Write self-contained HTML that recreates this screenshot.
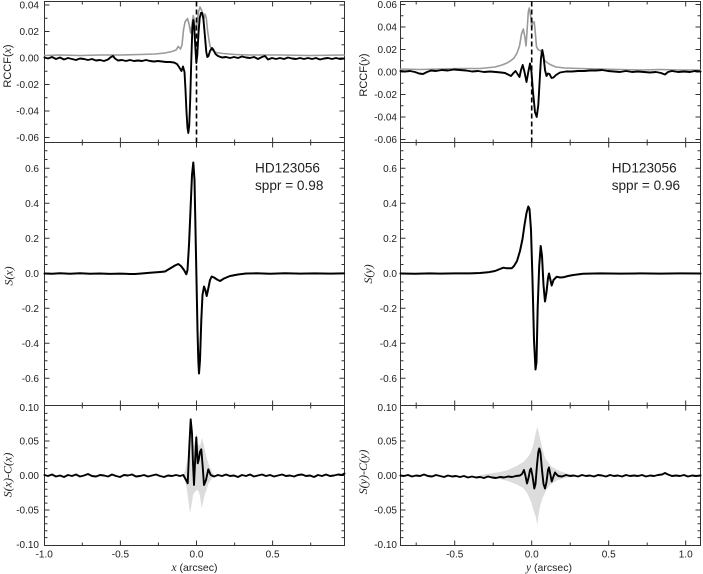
<!DOCTYPE html>
<html><head><meta charset="utf-8"><style>
html,body{margin:0;padding:0;background:#fff;}
svg{display:block;}
text{font-family:"Liberation Sans",Arial,sans-serif;fill:#222;}
.tl{font-size:10px;}
.it{font-family:"Liberation Serif",serif;font-style:italic;}
</style></head><body>
<svg width="703" height="574" viewBox="0 0 703 574" xmlns="http://www.w3.org/2000/svg">
<defs>
<path id="ytTL" d="M0 5h5M0 31.5h5M0 58h5M0 84.5h5M0 111h5M0 137.5h5M0 18.25h3M0 44.75h3M0 71.25h3M0 97.75h3M0 124.25h3"/>
<path id="ytTR" d="M0 4.5h5M0 27h5M0 49.5h5M0 72h5M0 94.5h5M0 117h5M0 139.5h5M0 15.75h3M0 38.25h3M0 60.75h3M0 83.25h3M0 105.75h3M0 128.25h3"/>
<path id="ytM" d="M0 168.3h5M0 203.3h5M0 238.3h5M0 273.3h5M0 308.3h5M0 343.3h5M0 378.3h5M0 150.8h3M0 159.55h3M0 177.05h3M0 185.8h3M0 194.55h3M0 212.05h3M0 220.8h3M0 229.55h3M0 247.05h3M0 255.8h3M0 264.55h3M0 282.05h3M0 290.8h3M0 299.55h3M0 317.05h3M0 325.8h3M0 334.55h3M0 352.05h3M0 360.8h3M0 369.55h3M0 387.05h3M0 395.8h3"/>
<path id="ytB" d="M0 441h5M0 475.5h5M0 510h5M0 413.4h3M0 420.3h3M0 427.2h3M0 434.1h3M0 447.9h3M0 454.8h3M0 461.7h3M0 468.6h3M0 482.4h3M0 489.3h3M0 496.2h3M0 503.1h3M0 516.9h3M0 523.8h3M0 530.7h3M0 537.6h3"/>
</defs>
<g stroke="#333" stroke-width="1" fill="none">
<rect x="44.5" y="1.5" width="300" height="544"/>
<path d="M44.5 142.5H344.5M44.5 405.5H344.5"/>
<rect x="400.5" y="1.5" width="300" height="544"/>
<path d="M400.5 142.5H700.5M400.5 405.5H700.5"/>
<use href="#ytTL" x="44.5"/>
<use href="#ytTL" transform="translate(344.5,0) scale(-1,1)"/>
<use href="#ytM" x="44.5"/>
<use href="#ytM" transform="translate(344.5,0) scale(-1,1)"/>
<use href="#ytB" x="44.5"/>
<use href="#ytB" transform="translate(344.5,0) scale(-1,1)"/>
<use href="#ytTR" x="400.5"/>
<use href="#ytTR" transform="translate(700.5,0) scale(-1,1)"/>
<use href="#ytM" x="400.5"/>
<use href="#ytM" transform="translate(700.5,0) scale(-1,1)"/>
<use href="#ytB" x="400.5"/>
<use href="#ytB" transform="translate(700.5,0) scale(-1,1)"/>
<path d="M120.4 1.5v5M196.5 1.5v5M272.6 1.5v5M82.3 1.5v3M158.4 1.5v3M234.6 1.5v3M310.7 1.5v3
M120.4 137.5v10M196.5 137.5v10M272.6 137.5v10M82.3 139.5v6M158.4 139.5v6M234.6 139.5v6M310.7 139.5v6
M120.4 400.5v10M196.5 400.5v10M272.6 400.5v10M82.3 402.5v6M158.4 402.5v6M234.6 402.5v6M310.7 402.5v6
M120.4 545.5v-5M196.5 545.5v-5M272.6 545.5v-5M82.3 545.5v-3M158.4 545.5v-3M234.6 545.5v-3M310.7 545.5v-3"/>
<path d="M454.7 1.5v5M531.7 1.5v5M608.7 1.5v5M685.7 1.5v5M416.2 1.5v3M493.2 1.5v3M570.2 1.5v3M647.2 1.5v3
M454.7 137.5v10M531.7 137.5v10M608.7 137.5v10M685.7 137.5v10M416.2 139.5v6M493.2 139.5v6M570.2 139.5v6M647.2 139.5v6
M454.7 400.5v10M531.7 400.5v10M608.7 400.5v10M685.7 400.5v10M416.2 402.5v6M493.2 402.5v6M570.2 402.5v6M647.2 402.5v6
M454.7 545.5v-5M531.7 545.5v-5M608.7 545.5v-5M685.7 545.5v-5M416.2 545.5v-3M493.2 545.5v-3M570.2 545.5v-3M647.2 545.5v-3"/>
</g>

<polygon fill="#dcdcdc" points="183,475 185,471 187,462 188.5,450 190.5,428 192,440 193.5,446 195,440 196.5,433 198,444 200,446 202,438 204,446 206,455 208,462 210,468 212,472 214,475 214,476 212,478 210,481 208.3,484 206.5,490 205,494 203.5,500 201.7,508.5 200,496 198.5,491 196.7,490 195,492 193.3,494 191.5,505 190,513.5 188.5,502 187,490 185,480 183,476"/>
<polygon fill="#dcdcdc" points="480,475 490,473.5 500,472 508,470 516.7,466 523.3,462 528,457 531,452 533.5,444 535.5,434 537.3,426.5 539,434 540.5,440 542.5,449 545,458 548,462 550,465 553,467.5 556.7,469.5 561,471.5 566.7,473.5 575,475 575,476.5 566.7,477.5 561,479 556.7,480.5 553,483 550,485 547,489 545,493 542.5,498 540,506.5 538.5,515 537.3,525 536,518 534.5,513 533.3,510 531.5,503 530,499 527,493 523.3,488 516.7,484.5 508,481 500,479 490,477.5 480,476.5"/>

<g fill="none" stroke-linejoin="round" stroke-linecap="round">
<polyline stroke="#9a9a9a" stroke-width="1.6" points="44.5,55.5 60,55 80,55.5 100,55 120,55 140,54.5 155,54 165,53 172,51.5 176,50 178.3,46.5 180.5,49 182,45 183.5,30 185,22 187.5,18.5 189,24 190.7,33 192,24 193.3,15.5 194.5,22 195.7,30 197,24 198.5,12 200,7 201.5,10 202.5,14 203.7,20 205,14 206.3,18 207.5,30 208.5,37 210,46 212,50 216,52.5 223,53.5 235,54.5 250,55 280,55 310,55.5 344,55"/>
<polyline stroke="#000" stroke-width="1.9" points="44.5,57.5 48,58.5 52,57 56,59 60,57.5 64,59.5 68,58 72,59 76,60 80,58.5 84,59 88,60 92,59 96,60.5 100,60 104,61 108,59.5 111,57 113,56 115,58.5 118,60.5 122,60 126,61 130,60 134,61 138,60.5 142,61 146,60 150,61 154,61.5 158,61 162,61.5 166,62 170,62 174,62.5 177,64 179,67 181.5,71 183,66.5 184.5,72 185.5,90 186.5,112 187.5,128 188.3,133 189.2,126 190.2,100 191.3,60 192.3,30 193.3,20 194.2,27 195.2,45 196.3,63 197.3,55 198.5,33 199.7,18 201,13 202.3,13 203.5,20 205,37 206.3,52 207.3,57 208.5,56 210,51 212,48 213.5,50 215.5,54 218,56 222,57.5 226,57 230,58 234,57 238,58 242,56.5 246,57.5 250,58 254,57 258,59 262,57 265,56 268,59.5 272,58 276,59 280,58 284,59 288,57.5 292,58.5 296,59 300,58 304,59 308,58 312,59 316,58 320,59.5 324,58.5 328,58 332,59 336,58 340,59 344,58.5"/>
<polyline stroke="#9a9a9a" stroke-width="1.6" points="400.5,69 420,69.5 440,69 460,68.5 480,68.5 495,67 502,65 507,63 511,60.5 514,58 517,53 519.5,46 521.5,34 523.3,29 525,38 526,46 527,32 528.3,12 529.3,8 530.5,15 531.7,28 533,22 534.3,22 535.5,35 536.5,47 538.5,50 540.5,50.5 542,55 545,61 550,64.5 556,67 565,68 580,68.5 600,69 620,69.5 640,70 660,69.5 680,70 700.5,70"/>
<polyline stroke="#000" stroke-width="1.9" points="400.5,71 405,71.5 410,71 415,72 419,73.5 423,74 427,72 431,70.5 436,71 442,70 448,70.5 454,69.5 460,70 466,70.5 472,71.5 478,71 484,72 490,71.5 496,72 501,72.5 505,73 508,74.5 511,76 513.5,73 515.5,71 517.5,74 519.5,77 521,70 522.7,65 524.5,72 526.5,82 528.3,72 530,63.5 531.5,72 533,92 535,112 536.7,117 538.3,105 539.7,80 541,58 542.3,50 543.5,56 545,70 546.5,76 548,73.5 549.5,74 551.5,78 553.5,77.5 556,75 560,72.5 566,71.5 572,71.5 578,71 584,71 590,70.5 596,70.5 602,70 608,71 614,71.5 620,72 626,71 632,72 638,71.5 644,72 650,72.5 656,72 661,73 665,74.5 668,72 672,71 678,72 684,71.5 690,72 695,71 700.5,71.5"/>
<polyline stroke="#000" stroke-width="2" points="44.5,273.5 52,273.8 60,273.3 70,273.7 80,273.3 90,273.8 100,273.5 110,273.9 120,273.6 130,274 135,274 140,273.6 150,272.8 160,272 165,271.5 170,268.5 175,265.5 178.3,264 181,266 184,270 186.3,274.3 187.5,270 189,245 190.5,210 192,175 193.3,162.5 194.5,180 195.5,230 196.5,280 197.5,330 198.3,360 199,373.5 200,360 201.3,320 202.5,295 204,286.5 205.3,290 206.7,296 208,290 210,280 211.7,276.5 214,277.5 217,279.5 220,281 224,278.5 230,276 238,274.5 246,273.5 256,273.3 270,273.7 285,273.3 300,273.6 315,273.4 330,273.6 344,273.4"/>
<polyline stroke="#000" stroke-width="2" points="400.5,273.5 415,273.7 430,273.4 440,273.6 455,273.4 470,273.4 480,273 488,272.3 495,271 500,269 503.3,267.7 507,268.3 511.7,268.3 514,266 517,261 520,251 522.5,239 524.5,225 526.5,213 528.3,206.5 529.5,209 531,230 532.5,280 534,340 535.5,369.5 536.5,362 537.7,307 539.2,266 540.7,246 542,256 543.5,285 545,301.5 546.5,292 548,278 549,273.5 550,278 551.7,285.5 553.5,280 556.7,276.7 560,277.5 563.3,277.3 568,276 573.3,275 583,273.7 600,273.4 620,273.6 640,273.4 660,273.6 680,273.4 700.5,273.5"/>
<polyline stroke="#000" stroke-width="1.9" points="44.5,475 48,476 52,474.5 56,476.5 60,475.5 64,477 68,475 72,476 76,474.5 80,476.5 84,475.5 88,474 92,476 96,476.5 100,475 104,475.5 108,476.5 112,474.5 116,476 120,477 124,475 128,475.5 132,474.5 136,476.5 140,476 144,475 148,476.5 152,475.5 156,474.5 160,476 164,477 168,475.5 172,476 176,475 180,476 183.3,475 186,480 187.7,483.3 189.3,446.7 190.7,419.3 192,433.3 193,463.3 194,485 195.3,456.7 196.3,437.3 197.7,463.3 198.7,460 200,451.7 201.3,449.3 202.7,466.7 204,485 206,480 208.3,469.3 210.7,475 214,476.5 218,475 222,476 226,474.5 230,476 234,475.5 238,477 242,475 246,476 250,474.5 254,476.5 258,475.5 262,474.5 266,476 270,475 274,476.5 278,475.5 282,474.5 286,476 290,475.5 294,476.5 298,475 302,474.5 306,476 310,475.5 314,477 318,475 322,476 326,474.5 330,476 334,475.5 338,474.5 342,475 344.5,473.5"/>
<polyline stroke="#000" stroke-width="1.9" points="400.5,475.5 404,476 408,475 412,476.5 416,475.5 420,476 424,474.5 428,476 432,476.5 436,475 440,476 444,477 448,475.5 452,476.5 456,476 460,477 464,476 468,477.5 472,476.5 476,477.5 480,477 484,478 488,476.5 492,477.5 496,478 500,477 504,477.5 508,476.5 512,477 516,476 520,475.5 522,474 524,470 525.5,476 527,483.5 528.5,478 530,470 531,468.5 532.5,476 534.3,488.5 535.5,484 537,465 538.3,452 539.3,448.5 540.5,453 542,470 543.5,484 545,488.5 546.5,482 548,470 549,467.5 550.3,474 551.7,481.5 553.3,477 555,472.5 556.7,474.5 558.3,476 562,476.5 566,475 570,476 574,475.5 578,476.5 582,475 586,476 590,475.5 594,476.5 598,475 602,475.5 606,476.5 610,475 614,476 618,475.5 622,476.5 626,475 630,476 634,475.5 638,476 642,475 646,476.5 650,475.5 654,476 658,475 662,474.5 665,473 668,474.5 672,476 676,475.5 680,476 684,475 688,476.5 692,475.5 696,476 700.5,475.5"/>
</g>

<path d="M196.5 1.5V142.5M531.7 1.5V142.5" stroke="#000" stroke-width="1.6" stroke-dasharray="5,3" fill="none"/>

<g class="tl" text-anchor="end">
<text x="39" y="8.6">0.04</text>
<text x="39" y="35.1">0.02</text>
<text x="39" y="61.6">0.00</text>
<text x="39" y="88.1">-0.02</text>
<text x="39" y="114.6">-0.04</text>
<text x="39" y="141.1">-0.06</text>
<text x="39" y="171.9">0.6</text>
<text x="39" y="206.9">0.4</text>
<text x="39" y="241.9">0.2</text>
<text x="39" y="276.9">0.0</text>
<text x="39" y="311.9">-0.2</text>
<text x="39" y="346.9">-0.4</text>
<text x="39" y="381.9">-0.6</text>
<text x="39" y="410.8">0.10</text>
<text x="39" y="444.6">0.05</text>
<text x="39" y="479.1">0.00</text>
<text x="39" y="513.6">-0.05</text>
<text x="39" y="548.1">-0.10</text>
</g>
<g class="tl" text-anchor="end">
<text x="397" y="8.1">0.06</text>
<text x="397" y="30.6">0.04</text>
<text x="397" y="53.1">0.02</text>
<text x="397" y="75.6">0.00</text>
<text x="397" y="98.1">-0.02</text>
<text x="397" y="120.6">-0.04</text>
<text x="397" y="143.1">-0.06</text>
<text x="397" y="171.9">0.6</text>
<text x="397" y="206.9">0.4</text>
<text x="397" y="241.9">0.2</text>
<text x="397" y="276.9">0.0</text>
<text x="397" y="311.9">-0.2</text>
<text x="397" y="346.9">-0.4</text>
<text x="397" y="381.9">-0.6</text>
<text x="397" y="410.8">0.10</text>
<text x="397" y="444.6">0.05</text>
<text x="397" y="479.1">0.00</text>
<text x="397" y="513.6">-0.05</text>
<text x="397" y="548.1">-0.10</text>
</g>
<g class="tl" text-anchor="middle">
<text x="44.2" y="557.5">-1.0</text>
<text x="120.4" y="557.5">-0.5</text>
<text x="196.5" y="557.5">0.0</text>
<text x="272.6" y="557.5">0.5</text>
<text x="454.7" y="557.5">-0.5</text>
<text x="531.7" y="557.5">0.0</text>
<text x="608.7" y="557.5">0.5</text>
<text x="685.7" y="557.5">1.0</text>
</g>
<text x="194.5" y="571" text-anchor="middle" font-size="10.5"><tspan class="it" font-size="11.5">x</tspan> (arcsec)</text>
<text x="549" y="571" text-anchor="middle" font-size="10.5"><tspan class="it" font-size="11.5">y</tspan> (arcsec)</text>

<text transform="translate(11,66) rotate(-90)" text-anchor="middle" font-size="11">RCCF(<tspan class="it" font-size="12">x</tspan>)</text>
<text transform="translate(12.5,276) rotate(-90)" text-anchor="middle" class="it" font-size="12">S(x)</text>
<text transform="translate(11.5,475) rotate(-90)" text-anchor="middle" class="it" font-size="12">S(x)-C(x)</text>
<text transform="translate(367,75) rotate(-90)" text-anchor="middle" font-size="11">RCCF(<tspan class="it" font-size="12">y</tspan>)</text>
<text transform="translate(372,274) rotate(-90)" text-anchor="middle" class="it" font-size="12">S(y)</text>
<text transform="translate(367,472) rotate(-90)" text-anchor="middle" class="it" font-size="12">S(y)-C(y)</text>

<text x="255" y="172.7" font-size="13.6">HD123056</text>
<text x="255" y="190" font-size="13.6">sppr = 0.98</text>
<text x="611.7" y="172.7" font-size="13.6">HD123056</text>
<text x="611.7" y="190" font-size="13.6">sppr = 0.96</text>
</svg>
</body></html>
